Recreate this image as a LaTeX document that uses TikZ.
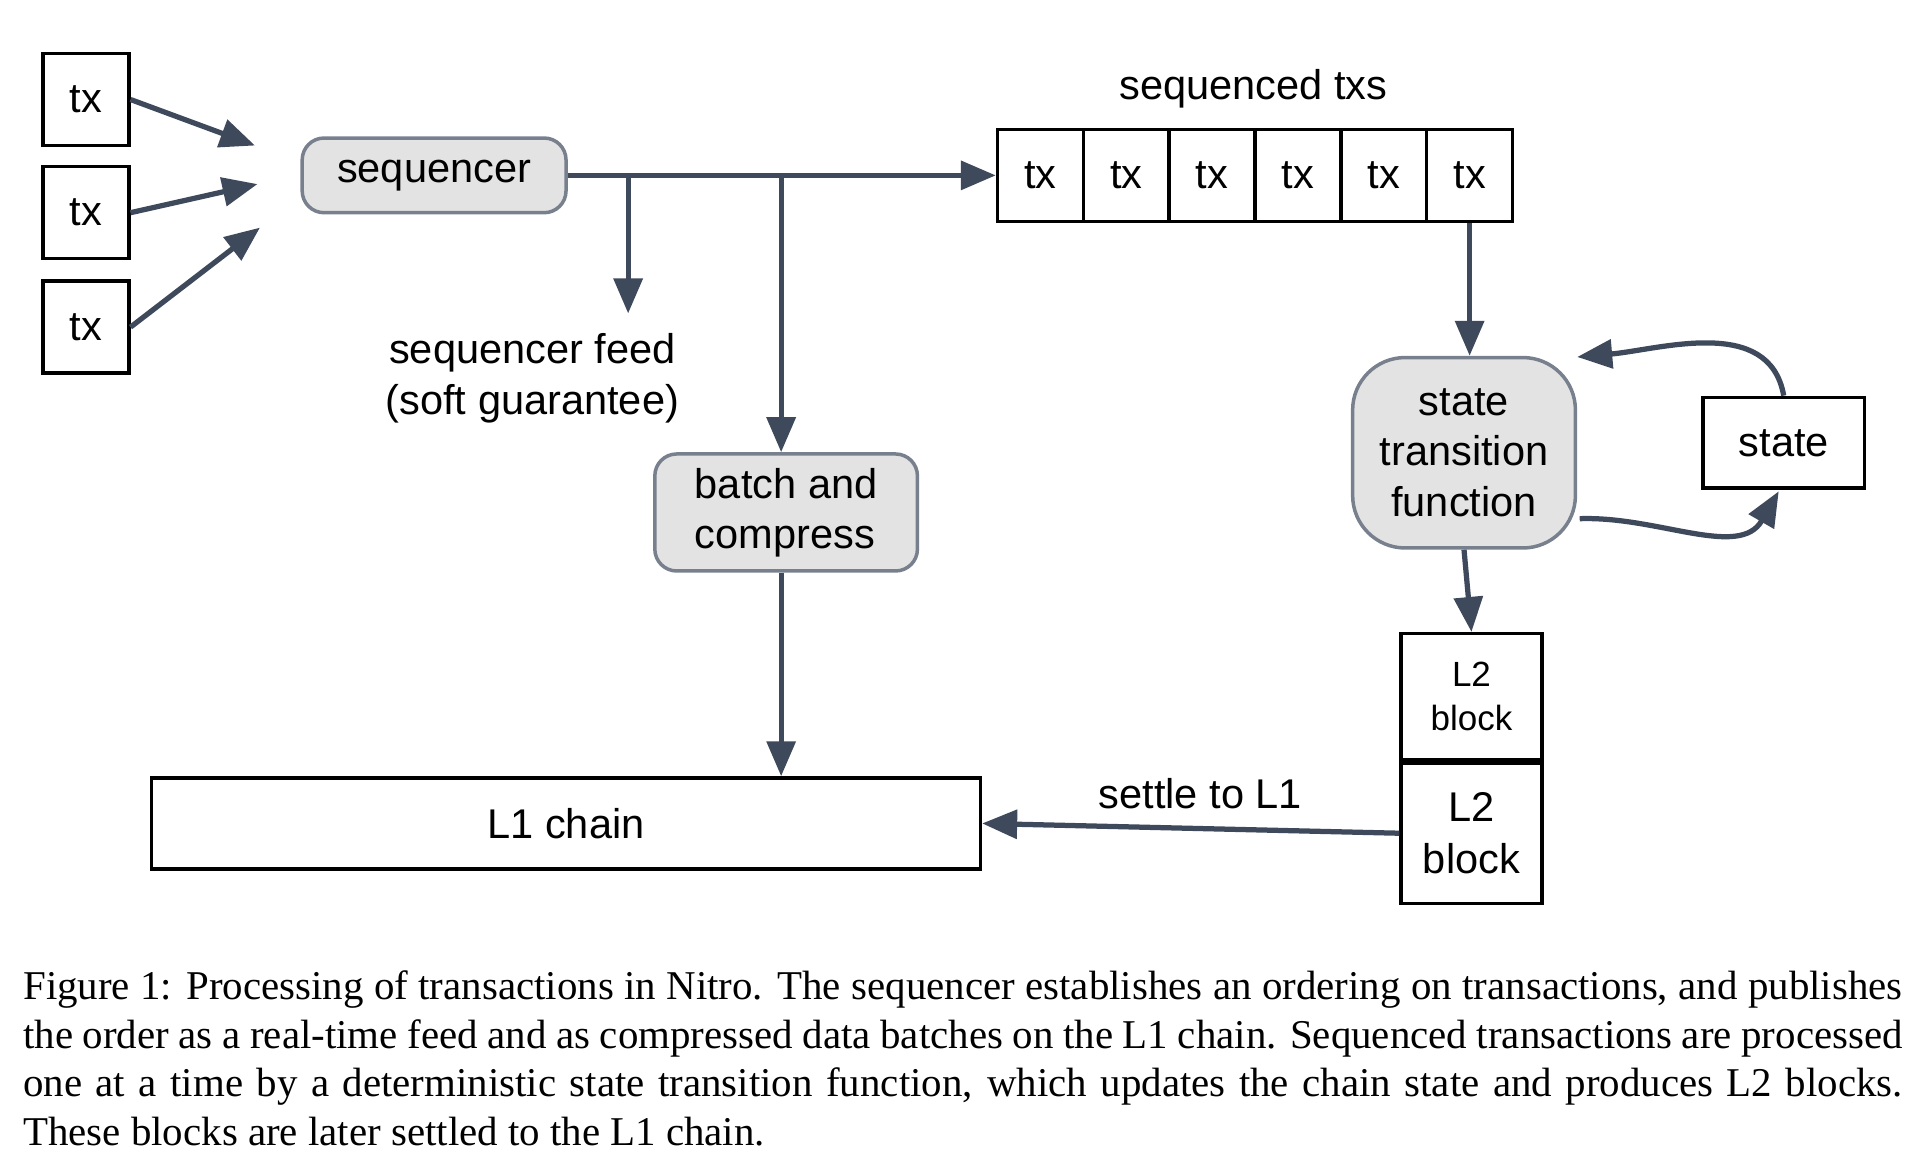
\documentclass[tikz,border=0pt]{standalone}
\usepackage{fontspec}
\setmainfont{Liberation Serif}
\newfontfamily\diagfont{Liberation Sans}
\usetikzlibrary{positioning,arrows.meta}
\definecolor{arrowgray}{HTML}{3E4A5C}
\definecolor{boxgray}{HTML}{E3E3E3}
\tikzset{
  flow/.style={draw=arrowgray,line width=1.2pt,-{Triangle[length=8pt,width=6.5pt]}},
  txbox/.style={draw,thick,minimum width=0.69cm,minimum height=0.74cm,inner sep=0pt,font=\diagfont\fontsize{9.5}{11.5}\selectfont},
  proc/.style={draw=arrowgray!70,fill=boxgray,rounded corners=5pt,thick,inner sep=0pt,align=center,font=\diagfont\fontsize{9.5}{11.5}\selectfont},
  lbl/.style={font=\diagfont\fontsize{9.5}{11.5}\selectfont,align=center}
}
\begin{document}
\begin{tikzpicture}[x=0.01cm,y=-0.01cm]
\useasboundingbox (0,0) rectangle (1550,937);
% incoming transactions
\node[txbox] (tx1) at (69,80) {tx};
\node[txbox] (tx2) at (69,171) {tx};
\node[txbox] (tx3) at (69,263) {tx};
\coordinate (in1) at (205,117);
\coordinate (in2) at (207,148);
\coordinate (in3) at (209,183);
\draw[flow] (tx1.east) -- (in1);
\draw[flow] (tx2.east) -- (in2);
\draw[flow] (tx3.east) -- (in3);
\node[proc,minimum width=2.12cm,minimum height=0.6cm,text depth=0.2em] (seq) at (349,141) {sequencer};
% sequenced txs
\foreach \i in {0,...,5}
  \node[txbox] (s\i) at (836.5+69*\i,141) {tx};
\node[lbl,above=1pt of s3.north west] (seqlbl) {sequenced txs};
\draw[flow] (seq.east) -- (s0.west);
\coordinate (f1) at (505,141);
\coordinate (f2) at (628,141);
\coordinate (feedend) at (505,252);
\draw[flow] (f1) -- (feedend);
\node[lbl] (feed) at (428,304) {sequencer feed\\(soft guarantee)};
\node[proc,minimum width=2.11cm,minimum height=0.94cm,align=left] (batch) at (632,412) {batch and\\compress};
\draw[flow] (f2) -- (f2|-batch.north);
\node[draw,thick,minimum width=6.66cm,minimum height=0.73cm,font=\diagfont\fontsize{9.5}{11.5}\selectfont] (l1) at (455,662) {L1 chain};
\draw[flow] (batch.south-|f2) -- (f2|-l1.north);
% state transition
\node[proc,rounded corners=12pt,minimum width=1.79cm,minimum height=1.53cm] (stf) at (1177,364) {state\\transition\\function};
\node[draw,thick,minimum width=1.3cm,minimum height=0.73cm,font=\diagfont\fontsize{9.5}{11.5}\selectfont] (state) at (1434,356) {state};
\coordinate (stfin) at (1268,287);
\coordinate (stfout) at (1270,417);
\coordinate (statein) at (1430,395);
\draw[flow] (s5.south) -- (s5.south|-stf.north);
\draw[flow] (state.north) to[out=100,in=5] (stfin);
\draw[flow] (stfout) to[out=2,in=-120] (statein);
\node[draw,thick,minimum width=1.13cm,minimum height=1.01cm,align=center,font=\diagfont\fontsize{8}{10}\selectfont] (b1) at (1183,560) {L2\\block};
\node[draw,thick,minimum width=1.13cm,minimum height=1.13cm,align=center,font=\diagfont\fontsize{9.5}{12}\selectfont,below=0pt of b1] (b2) {L2\\block};
\draw[line width=1.6pt] (b1.south west) -- (b1.south east);
\draw[flow] (stf.south) -- (b1.north);
\draw[flow] (b2.west) -- (l1.east);
\node[lbl] (settle) at (965,638) {settle to L1};
% caption
\node[anchor=north west,inner sep=0pt,text width=15.1cm,align=justify,font=\fontsize{9.35}{11.1}\selectfont] (cap) at (18,780)
{Figure 1: Processing of transactions in Nitro. The sequencer establishes an ordering on transactions, and publishes the order as a real-time feed and as compressed data batches on the L1 chain. Sequenced transactions are processed one at a time by a deterministic state transition function, which updates the chain state and produces L2 blocks. These blocks are later settled to the L1 chain.};
\end{tikzpicture}
\end{document}
